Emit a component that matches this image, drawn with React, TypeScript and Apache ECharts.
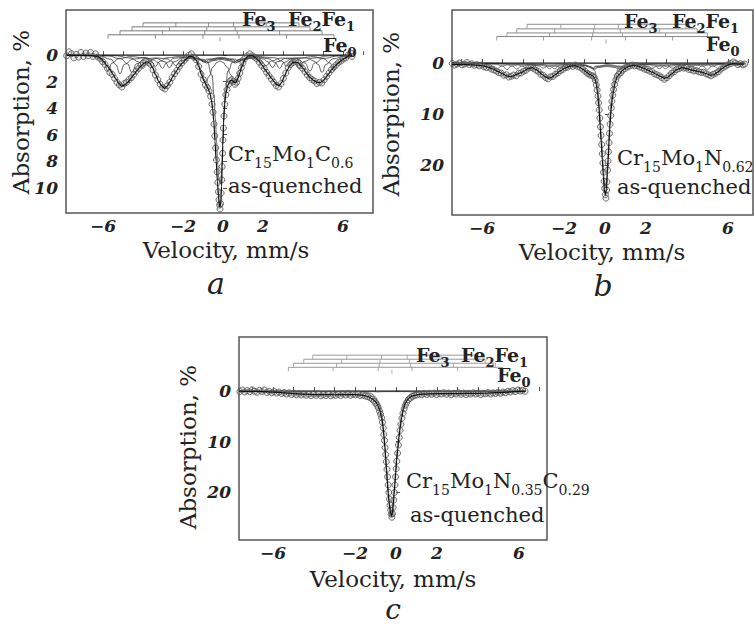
import React, { useEffect, useRef } from 'react';
import * as echarts from 'echarts';

// ---------- Panel a : Cr15Mo1C0.6 ----------
const dataA: number[][] = [
  [-7.82,0.05],[-7.7,-0.25],[-7.58,-0.1],[-7.46,0.2],[-7.34,-0.05],[-7.22,0.15],[-7.1,-0.2],[-6.98,0.1],[-6.86,-0.15],[-6.74,0.05],[-6.62,-0.2],[-6.5,0.1],[-6.38,-0.1],[-6.26,0.15],[-6.14,0.25],[-6.02,0.5],[-5.9,0.7],[-5.78,1.0],[-5.66,1.3],[-5.54,1.45],[-5.42,1.75],[-5.3,2.05],[-5.18,2.25],[-5.06,2.4],[-4.94,2.15],[-4.82,2.05],[-4.7,1.85],[-4.58,1.7],[-4.46,1.45],[-4.34,1.2],[-4.22,1.0],[-4.1,0.75],[-3.98,0.6],[-3.86,0.45],[-3.74,0.55],[-3.62,0.7],[-3.5,1.1],[-3.38,1.5],[-3.26,1.85],[-3.14,2.2],[-3.02,2.45],[-2.9,2.55],[-2.78,2.3],[-2.66,2.05],[-2.54,1.7],[-2.42,1.4],[-2.3,1.15],[-2.18,0.85],[-2.06,0.6],[-1.94,0.4],[-1.82,0.2],[-1.7,0.0],[-1.58,-0.1],[-1.46,0.15],[-1.34,0.35],[-1.22,0.85],[-1.1,1.45],[-0.98,1.85],[-0.88,2.25],[-0.78,2.45],[-0.7,2.7],[-0.62,3.1],[-0.55,3.7],[-0.5,4.3],[-0.45,5.2],[-0.41,6.1],[-0.37,7.0],[-0.33,7.9],[-0.29,8.8],[-0.26,9.6],[-0.23,10.3],[-0.2,10.9],[-0.17,11.3],[-0.15,11.6],[-0.12,11.2],[-0.09,10.4],[-0.06,9.4],[-0.04,8.4],[-0.02,7.4],[0.0,6.4],[0.02,5.5],[0.05,4.6],[0.09,3.7],[0.14,3.0],[0.2,2.6],[0.28,2.2],[0.36,1.95],[0.44,1.85],[0.52,2.0],[0.6,2.2],[0.68,2.05],[0.76,1.75],[0.84,1.35],[0.92,0.95],[1.0,0.6],[1.1,0.25],[1.22,0.05],[1.34,-0.1],[1.46,0.05],[1.58,0.15],[1.7,0.3],[1.82,0.55],[1.94,0.8],[2.06,1.0],[2.18,1.3],[2.3,1.55],[2.42,1.8],[2.54,2.05],[2.66,2.3],[2.78,2.4],[2.9,2.15],[3.02,1.75],[3.14,1.35],[3.26,0.95],[3.38,0.7],[3.5,0.55],[3.62,0.45],[3.74,0.6],[3.86,0.8],[3.98,1.0],[4.1,1.25],[4.22,1.5],[4.34,1.7],[4.46,1.85],[4.58,1.95],[4.7,2.15],[4.82,2.05],[4.94,2.1],[5.06,1.85],[5.18,1.6],[5.3,1.35],[5.42,1.1],[5.54,0.9],[5.66,0.75],[5.78,0.55],[5.9,0.45],[6.02,0.3],[6.14,0.2],[6.26,0.0],[6.38,-0.15],[6.45,0.1]
];
const fitA: number[][] = [
  [-7.8,0.0],[-7.2,0.02],[-6.6,0.03],[-6.3,0.08],[-6.1,0.25],[-5.95,0.5],[-5.8,0.8],[-5.65,1.1],[-5.5,1.45],[-5.35,1.8],[-5.2,2.15],[-5.07,2.35],[-4.92,2.25],[-4.77,2.05],[-4.6,1.75],[-4.45,1.45],[-4.3,1.15],[-4.12,0.85],[-3.95,0.6],[-3.8,0.5],[-3.66,0.6],[-3.52,0.95],[-3.38,1.45],[-3.22,1.95],[-3.08,2.3],[-2.93,2.5],[-2.8,2.35],[-2.65,2.0],[-2.5,1.6],[-2.35,1.25],[-2.2,0.9],[-2.02,0.58],[-1.85,0.3],[-1.7,0.1],[-1.52,0.1],[-1.36,0.35],[-1.2,0.9],[-1.07,1.5],[-0.95,1.95],[-0.84,2.25],[-0.74,2.55],[-0.66,2.85],[-0.58,3.35],[-0.52,4.0],[-0.46,5.0],[-0.4,6.5],[-0.34,8.0],[-0.28,9.5],[-0.23,10.6],[-0.18,11.3],[-0.15,11.45],[-0.11,11.0],[-0.07,9.9],[-0.04,8.4],[-0.01,6.8],[0.03,5.1],[0.08,3.7],[0.15,2.8],[0.25,2.25],[0.35,1.95],[0.45,1.9],[0.55,2.05],[0.65,2.05],[0.75,1.75],[0.85,1.3],[0.95,0.85],[1.1,0.3],[1.27,0.05],[1.43,0.02],[1.6,0.15],[1.77,0.4],[1.95,0.75],[2.1,1.08],[2.25,1.4],[2.43,1.75],[2.56,2.0],[2.68,2.22],[2.8,2.3],[2.94,2.05],[3.08,1.55],[3.22,1.1],[3.36,0.75],[3.5,0.57],[3.62,0.52],[3.76,0.58],[3.88,0.78],[4.02,1.02],[4.18,1.38],[4.35,1.68],[4.52,1.9],[4.7,2.05],[4.85,2.08],[5.0,1.95],[5.12,1.74],[5.26,1.45],[5.43,1.1],[5.6,0.82],[5.77,0.58],[5.95,0.38],[6.1,0.22],[6.27,0.06],[6.45,0.0]
];
const singA: number[][] = [
  [-1.3,0.1],[-0.8,0.5],[-0.55,1.5],[-0.45,3.0],[-0.38,4.8],[-0.32,6.6],[-0.26,8.3],[-0.2,9.4],[-0.15,9.7],[-0.1,9.3],[-0.05,8.0],[0.0,6.2],[0.05,4.3],[0.12,2.6],[0.25,1.2],[0.5,0.5],[1.0,0.1]
];
const dubA: number[][] = [
  [-1.6,0.0],[-1.3,0.4],[-1.1,1.1],[-0.95,1.8],[-0.85,2.1],[-0.7,1.6],[-0.5,0.9],[-0.3,0.55],[-0.15,0.45],[0.0,0.55],[0.2,0.9],[0.4,1.5],[0.55,2.0],[0.65,1.9],[0.8,1.2],[1.0,0.5],[1.3,0.1],[1.6,0.0]
];
const sexA4: number[][] = [
  [-7.8,0],[-6.6,0.05],[-6.2,0.25],[-5.95,0.6],[-5.75,1.2],[-5.55,0.6],[-5.2,0.25],[-4.6,0.12],[-3.9,0.22],[-3.6,0.45],[-3.38,0.85],[-3.15,0.45],[-2.8,0.2],[-2.2,0.12],[-1.5,0.15],[-1.2,0.3],[-1.0,0.5],[-0.8,0.3],[-0.1,0.2],[0.6,0.3],[0.8,0.5],[1.0,0.3],[1.7,0.12],[2.6,0.2],[2.95,0.45],[3.18,0.85],[3.4,0.45],[3.8,0.22],[4.5,0.12],[5.0,0.25],[5.35,0.6],[5.55,1.2],[5.75,0.6],[6.0,0.25],[6.45,0.05]
];
const sexA3: number[][] = [
  [-7.8,0],[-6.2,0.05],[-5.6,0.3],[-5.37,0.7],[-5.15,1.4],[-4.93,0.7],[-4.5,0.3],[-3.9,0.18],[-3.5,0.35],[-3.25,0.55],[-3.03,1.0],[-2.8,0.55],[-2.4,0.22],[-1.8,0.15],[-1.2,0.3],[-0.91,0.55],[-0.7,0.35],[-0.1,0.22],[0.5,0.35],[0.71,0.55],[1.0,0.3],[1.8,0.15],[2.3,0.28],[2.6,0.55],[2.83,1.0],[3.05,0.55],[3.5,0.22],[4.2,0.22],[4.55,0.45],[4.75,0.7],[4.95,1.3],[5.15,0.7],[5.5,0.28],[6.1,0.08],[6.45,0.04]
];
const sexA2: number[][] = [
  [-7.8,0],[-5.8,0.05],[-5.1,0.28],[-4.78,0.65],[-4.55,1.3],[-4.32,0.65],[-3.9,0.28],[-3.4,0.22],[-2.9,0.5],[-2.68,0.95],[-2.45,0.5],[-2.0,0.2],[-1.4,0.22],[-1.05,0.38],[-0.81,0.6],[-0.6,0.38],[-0.1,0.25],[0.4,0.38],[0.61,0.6],[0.85,0.38],[1.5,0.18],[2.0,0.28],[2.25,0.5],[2.48,0.95],[2.7,0.5],[3.2,0.22],[3.7,0.28],[4.1,0.6],[4.35,1.2],[4.58,0.6],[5.0,0.25],[5.8,0.06],[6.45,0.03]
];
const sexA1: number[][] = [
  [-7.8,0],[-5.4,0.05],[-4.6,0.22],[-4.23,0.5],[-4.0,1.0],[-3.77,0.5],[-3.3,0.22],[-2.8,0.28],[-2.58,0.45],[-2.36,0.8],[-2.14,0.45],[-1.6,0.22],[-1.0,0.32],[-0.72,0.55],[-0.5,0.42],[-0.1,0.32],[0.3,0.42],[0.52,0.55],[0.8,0.32],[1.4,0.2],[1.9,0.45],[2.16,0.8],[2.4,0.45],[2.9,0.22],[3.35,0.28],[3.57,0.5],[3.8,1.0],[4.03,0.5],[4.5,0.22],[5.4,0.05],[6.45,0.02]
];
const baseA: number[][] = [[-7.85,0],[6.45,0]];
const sticksA: number[][] = [
  [-4.0,-2.36,-0.72,0.52,2.16,3.8],
  [-4.55,-2.68,-0.81,0.61,2.48,4.35],
  [-5.15,-3.03,-0.91,0.71,2.83,4.95],
  [-5.75,-3.38,-1.0,0.8,3.18,5.55]
];
const stickLevelsA = [-2.43,-2.13,-1.83,-1.53];
const fe0A = [-0.15,-1.2];

// ---------- Panel b : Cr15Mo1N0.62 ----------
const dataB: number[][] = [
  [-7.45,0.1],[-7.33,0.4],[-7.21,0.2],[-7.09,0.0],[-6.97,0.35],[-6.85,0.2],[-6.73,-0.1],[-6.61,0.3],[-6.49,0.15],[-6.37,0.45],[-6.25,0.3],[-6.13,0.55],[-6.01,0.4],[-5.89,0.75],[-5.77,0.9],[-5.65,0.8],[-5.53,1.2],[-5.41,1.35],[-5.29,1.6],[-5.17,1.9],[-5.05,2.0],[-4.93,2.4],[-4.81,2.3],[-4.69,2.75],[-4.57,2.6],[-4.45,2.35],[-4.33,2.5],[-4.21,2.0],[-4.09,1.95],[-3.97,1.6],[-3.85,1.4],[-3.73,1.0],[-3.61,0.85],[-3.49,1.05],[-3.37,1.4],[-3.25,1.65],[-3.13,2.2],[-3.01,2.4],[-2.89,2.85],[-2.77,3.1],[-2.65,2.7],[-2.53,2.6],[-2.41,2.2],[-2.29,1.9],[-2.17,1.5],[-2.05,1.25],[-1.93,0.9],[-1.81,0.8],[-1.69,0.5],[-1.57,0.65],[-1.45,0.4],[-1.33,0.7],[-1.21,0.85],[-1.09,1.2],[-0.97,1.6],[-0.87,2.0],[-0.78,2.2],[-0.69,2.4],[-0.6,2.5],[-0.53,2.8],[-0.47,3.4],[-0.42,4.3],[-0.38,5.3],[-0.34,6.5],[-0.31,7.8],[-0.28,9.2],[-0.25,10.8],[-0.22,12.5],[-0.19,14.2],[-0.16,16.0],[-0.13,17.8],[-0.1,19.6],[-0.07,21.4],[-0.04,23.2],[-0.01,24.6],[0.02,25.8],[0.05,26.5],[0.08,24.9],[0.1,23.3],[0.13,21.0],[0.15,19.2],[0.17,17.4],[0.2,15.6],[0.22,13.8],[0.25,12.0],[0.28,10.3],[0.31,8.8],[0.34,7.5],[0.38,6.3],[0.42,5.2],[0.47,4.2],[0.53,3.3],[0.6,2.6],[0.68,2.2],[0.77,1.9],[0.87,1.4],[0.97,1.1],[1.09,0.8],[1.21,0.6],[1.33,0.4],[1.45,0.55],[1.57,0.5],[1.69,0.8],[1.81,0.9],[1.93,1.2],[2.05,1.3],[2.17,1.6],[2.29,1.7],[2.41,2.1],[2.53,2.3],[2.65,2.5],[2.77,2.85],[2.89,3.2],[3.01,2.9],[3.13,2.5],[3.25,2.0],[3.37,1.7],[3.49,1.3],[3.61,1.1],[3.73,0.85],[3.85,1.0],[3.97,0.95],[4.09,1.25],[4.21,1.3],[4.33,1.55],[4.45,1.5],[4.57,1.7],[4.69,1.85],[4.81,1.8],[4.93,2.1],[5.05,2.3],[5.17,2.5],[5.29,2.2],[5.41,2.0],[5.53,1.7],[5.65,1.2],[5.77,0.9],[5.89,0.6],[6.01,0.3],[6.13,0.1],[6.25,-0.2],[6.37,0.0],[6.49,0.3],[6.61,0.15],[6.73,0.35],[6.82,0.2]
];
const fitB: number[][] = [
  [-7.46,0.3],[-7.0,0.3],[-6.5,0.35],[-6.0,0.5],[-5.7,0.8],[-5.45,1.2],[-5.2,1.7],[-5.0,2.1],[-4.8,2.5],[-4.6,2.7],[-4.45,2.5],[-4.3,2.2],[-4.1,1.9],[-3.95,1.6],[-3.75,1.1],[-3.56,0.9],[-3.35,1.3],[-3.2,1.8],[-3.05,2.3],[-2.9,2.7],[-2.76,3.0],[-2.6,2.8],[-2.43,2.3],[-2.2,1.6],[-1.95,1.0],[-1.7,0.6],[-1.46,0.5],[-1.25,0.8],[-1.05,1.3],[-0.9,1.8],[-0.75,2.2],[-0.6,2.5],[-0.5,3.0],[-0.42,4.2],[-0.36,5.9],[-0.3,8.5],[-0.24,12.2],[-0.18,15.6],[-0.13,18.9],[-0.08,22.2],[-0.03,24.8],[0.02,25.9],[0.07,24.8],[0.12,21.5],[0.16,18.9],[0.2,15.5],[0.24,12.4],[0.3,9.2],[0.36,7.0],[0.41,5.7],[0.5,3.8],[0.59,2.7],[0.7,2.2],[0.85,1.5],[1.0,1.0],[1.2,0.6],[1.39,0.45],[1.6,0.6],[1.88,1.0],[2.1,1.4],[2.3,1.8],[2.5,2.2],[2.7,2.6],[2.9,3.0],[3.05,2.8],[3.26,2.1],[3.5,1.3],[3.75,0.9],[4.0,1.1],[4.24,1.4],[4.5,1.6],[4.72,1.8],[4.95,2.1],[5.15,2.4],[5.3,2.3],[5.5,1.8],[5.7,1.1],[5.85,0.7],[6.05,0.3],[6.26,0.1],[6.5,0.2],[6.8,0.2]
];
const singB: number[][] = [
  [-1.5,0.05],[-1.0,0.3],[-0.7,0.7],[-0.5,1.5],[-0.42,2.6],[-0.36,4.2],[-0.3,6.8],[-0.24,10.4],[-0.18,14.0],[-0.13,17.4],[-0.08,20.7],[-0.03,23.3],[0.02,24.4],[0.07,23.3],[0.12,20.0],[0.16,17.4],[0.2,14.0],[0.24,10.8],[0.3,7.6],[0.36,5.3],[0.41,4.0],[0.5,2.2],[0.7,0.8],[1.0,0.3],[1.5,0.05]
];
const sexB4: number[][] = [
  [-7.46,0],[-6.5,0.05],[-5.8,0.25],[-5.5,0.6],[-5.28,1.2],[-5.06,0.6],[-4.6,0.25],[-4.0,0.2],[-3.45,0.4],[-3.22,0.6],[-3.0,1.0],[-2.78,0.6],[-2.3,0.25],[-1.6,0.25],[-1.0,0.5],[-0.82,0.7],[-0.65,1.0],[-0.45,0.6],[0.2,0.35],[0.75,0.6],[1.0,1.0],[1.2,0.6],[1.8,0.25],[2.6,0.25],[3.05,0.6],[3.3,1.0],[3.52,0.6],[4.1,0.25],[4.9,0.3],[5.3,0.6],[5.55,1.2],[5.78,0.6],[6.2,0.2],[6.8,0.05]
];
const sexB3: number[][] = [
  [-7.46,0],[-6.2,0.05],[-5.3,0.25],[-5.0,0.6],[-4.78,1.3],[-4.56,0.6],[-4.1,0.25],[-3.6,0.25],[-3.15,0.4],[-2.92,0.6],[-2.7,1.1],[-2.48,0.6],[-2.0,0.3],[-1.4,0.3],[-0.95,0.5],[-0.78,0.75],[-0.6,1.1],[-0.42,0.7],[0.15,0.4],[0.65,0.7],[0.85,1.1],[1.05,0.65],[1.6,0.3],[2.3,0.3],[2.72,0.6],[2.95,1.1],[3.18,0.6],[3.7,0.25],[4.3,0.3],[4.78,0.6],[5.0,1.3],[5.22,0.6],[5.7,0.2],[6.8,0.03]
];
const sexB2: number[][] = [
  [-7.46,0],[-5.8,0.05],[-4.85,0.25],[-4.52,0.6],[-4.3,1.2],[-4.08,0.6],[-3.6,0.25],[-3.1,0.3],[-2.68,0.6],[-2.45,1.1],[-2.23,0.6],[-1.7,0.3],[-1.1,0.4],[-0.75,0.7],[-0.55,1.2],[-0.35,0.8],[0.1,0.55],[0.55,0.8],[0.75,1.2],[0.95,0.7],[1.5,0.3],[2.1,0.3],[2.43,0.6],[2.65,1.1],[2.87,0.6],[3.4,0.3],[3.95,0.3],[4.28,0.6],[4.5,1.2],[4.72,0.6],[5.2,0.25],[6.8,0.03]
];
const sexB1: number[][] = [
  [-7.46,0],[-5.2,0.05],[-4.35,0.25],[-4.02,0.6],[-3.8,1.1],[-3.58,0.6],[-3.1,0.3],[-2.6,0.35],[-2.37,0.6],[-2.15,1.0],[-1.93,0.6],[-1.4,0.35],[-0.9,0.5],[-0.68,0.8],[-0.5,1.2],[-0.3,0.85],[0.1,0.7],[0.47,0.85],[0.65,1.2],[0.85,0.75],[1.4,0.35],[1.85,0.4],[2.08,0.6],[2.3,1.0],[2.52,0.6],[3.0,0.3],[3.5,0.3],[3.73,0.6],[3.95,1.1],[4.17,0.6],[4.7,0.25],[6.8,0.03]
];
const baseB: number[][] = [[-7.46,0],[6.8,0]];
const sticksB: number[][] = [
  [-3.8,-2.15,-0.5,0.65,2.3,3.95],
  [-4.3,-2.45,-0.55,0.75,2.65,4.5],
  [-4.78,-2.7,-0.6,0.85,2.95,5.0],
  [-5.28,-3.0,-0.65,1.0,3.3,5.55]
];
const stickLevelsB = [-7.6,-6.7,-5.9,-5.2];
const fe0B = [0.05,-4.2];

// ---------- Panel c : Cr15Mo1N0.35C0.29 ----------
const dataC: number[][] = [
  [-7.62,0.1],[-7.5,-0.2],[-7.38,0.2],[-7.26,-0.1],[-7.14,0.15],[-7.02,-0.25],[-6.9,0.05],[-6.78,0.25],[-6.66,-0.15],[-6.54,0.1],[-6.42,-0.2],[-6.3,0.3],[-6.18,0.05],[-6.06,0.35],[-5.94,0.1],[-5.82,0.4],[-5.7,0.2],[-5.58,0.5],[-5.46,0.3],[-5.34,0.6],[-5.22,0.35],[-5.1,0.7],[-4.98,0.45],[-4.86,0.75],[-4.74,0.5],[-4.62,0.8],[-4.5,0.55],[-4.38,0.85],[-4.26,0.6],[-4.14,0.9],[-4.02,0.6],[-3.9,0.85],[-3.78,0.55],[-3.66,0.95],[-3.54,0.7],[-3.42,0.9],[-3.3,0.6],[-3.18,0.95],[-3.06,0.7],[-2.94,0.85],[-2.82,0.6],[-2.7,0.9],[-2.58,0.55],[-2.46,0.8],[-2.34,0.5],[-2.22,0.85],[-2.1,0.6],[-1.98,0.75],[-1.86,0.6],[-1.74,0.9],[-1.62,0.8],[-1.5,1.0],[-1.38,1.1],[-1.26,1.35],[-1.16,1.6],[-1.07,2.0],[-0.99,2.4],[-0.92,2.8],[-0.86,3.3],[-0.8,4.0],[-0.75,4.6],[-0.7,5.3],[-0.66,6.2],[-0.62,7.3],[-0.59,8.6],[-0.56,9.8],[-0.53,11.2],[-0.5,12.6],[-0.47,14.0],[-0.44,15.5],[-0.41,17.0],[-0.38,18.6],[-0.35,20.1],[-0.32,21.4],[-0.29,22.6],[-0.26,23.6],[-0.23,24.4],[-0.2,25.0],[-0.17,24.3],[-0.14,23.1],[-0.11,21.6],[-0.08,20.1],[-0.05,18.6],[-0.02,17.0],[0.01,15.4],[0.04,13.9],[0.08,12.3],[0.12,10.7],[0.16,9.2],[0.2,7.8],[0.24,6.6],[0.29,5.4],[0.34,4.4],[0.4,3.5],[0.46,2.8],[0.53,2.2],[0.61,1.7],[0.7,1.4],[0.8,1.1],[0.9,0.9],[1.02,0.8],[1.14,0.6],[1.26,0.75],[1.38,0.5],[1.5,0.7],[1.62,0.45],[1.74,0.65],[1.86,0.4],[1.98,0.7],[2.1,0.45],[2.22,0.6],[2.34,0.35],[2.46,0.65],[2.58,0.4],[2.7,0.7],[2.82,0.45],[2.94,0.6],[3.06,0.35],[3.18,0.65],[3.3,0.4],[3.42,0.7],[3.54,0.45],[3.66,0.6],[3.78,0.35],[3.9,0.6],[4.02,0.4],[4.14,0.7],[4.26,0.45],[4.38,0.55],[4.5,0.3],[4.62,0.6],[4.74,0.35],[4.86,0.5],[4.98,0.25],[5.1,0.45],[5.22,0.2],[5.34,0.35],[5.46,0.05],[5.58,0.2],[5.7,-0.1],[5.82,0.1],[5.94,-0.2],[6.06,0.0],[6.18,-0.15],[6.3,0.05]
];
const fitC: number[][] = [
  [-7.66,0.0],[-7.0,0.05],[-6.5,0.1],[-6.0,0.2],[-5.5,0.35],[-5.0,0.5],[-4.5,0.6],[-4.0,0.7],[-3.5,0.72],[-3.0,0.74],[-2.5,0.7],[-2.0,0.7],[-1.6,0.85],[-1.35,1.1],[-1.15,1.6],[-1.0,2.1],[-0.93,2.5],[-0.86,3.1],[-0.78,4.0],[-0.7,5.3],[-0.64,6.9],[-0.59,8.9],[-0.54,11.2],[-0.5,13.5],[-0.46,15.8],[-0.42,18.1],[-0.38,20.2],[-0.34,22.0],[-0.28,23.9],[-0.21,24.8],[-0.17,24.1],[-0.13,22.4],[-0.09,20.4],[-0.05,18.4],[-0.01,16.1],[0.03,13.8],[0.09,11.4],[0.15,9.1],[0.21,7.1],[0.28,5.2],[0.36,3.7],[0.44,2.6],[0.55,1.8],[0.68,1.25],[0.82,0.95],[1.0,0.75],[1.3,0.6],[2.0,0.52],[3.0,0.5],[4.0,0.45],[5.0,0.32],[5.5,0.2],[6.0,0.05],[6.33,0.0]
];
const singC: number[][] = [
  [-1.6,0.1],[-1.2,0.45],[-1.0,1.2],[-0.86,2.0],[-0.78,3.0],[-0.7,4.5],[-0.64,6.2],[-0.59,8.4],[-0.54,10.7],[-0.5,13.1],[-0.46,15.4],[-0.42,17.7],[-0.38,19.7],[-0.34,21.6],[-0.28,23.4],[-0.21,24.3],[-0.17,23.4],[-0.13,21.6],[-0.09,19.7],[-0.05,17.7],[-0.01,15.4],[0.03,13.1],[0.09,10.7],[0.15,8.4],[0.21,6.4],[0.28,4.5],[0.36,3.0],[0.44,1.9],[0.55,1.1],[0.7,0.6],[1.0,0.25],[1.4,0.1]
];
const sexC: number[][] = [
  [-7.66,0],[-6.0,0.05],[-5.5,0.15],[-5.25,0.4],[-5.0,0.15],[-4.2,0.08],[-3.3,0.15],[-3.07,0.35],[-2.85,0.15],[-2.0,0.08],[-1.1,0.15],[-0.87,0.3],[-0.65,0.15],[0.55,0.15],[0.78,0.3],[1.0,0.15],[2.0,0.08],[2.78,0.15],[3.0,0.35],[3.22,0.15],[4.2,0.08],[4.95,0.15],[5.2,0.4],[5.45,0.15],[6.33,0.02]
];
const baseC: number[][] = [[-7.66,0],[6.33,0]];
const sticksC: number[][] = [
  [-4.06,-2.4,-0.7,0.55,2.2,3.85],
  [-4.5,-2.65,-0.78,0.65,2.5,4.35],
  [-5.0,-2.9,-0.82,0.72,2.8,4.85],
  [-5.25,-3.07,-0.87,0.78,3.0,5.2]
];
const stickLevelsC = [-7.1,-6.3,-5.5,-4.7];
const fe0C = [-0.2,-3.8];

// ---------- axes ----------
const xTickValues = [-7,-6,-5,-4,-3,-2,-1,0,1,2,3,4,5,6,7];
const xLabelValues = [-6,-2,0,2,6];
const yLabelValuesA = [0,2,4,6,8,10];
const yLabelValuesBC = [0,10,20];

const SERIF = "DejaVu Serif";
const INK = '#222';

const fmt = (v: number) => (v < 0 ? '\u2212' + Math.abs(v) : String(v));

function buildOption() {
  const grids = [
    { left: 66, top: 10, width: 307, height: 203 },
    { left: 452, top: 10, width: 301, height: 205 },
    { left: 239, top: 337, width: 308, height: 203 },
  ].map((g) => ({ ...g, show: true, borderColor: '#555', borderWidth: 1.5, backgroundColor: 'transparent', containLabel: false, outerBoundsMode: 'none' }));

  const xr = [[-7.85, 7.5], [-7.46, 7.22], [-7.66, 7.37]];
  const yr = [[-3.4, 11.9], [-10.4, 29.8], [-10.7, 29.5]];
  const yl = [yLabelValuesA, yLabelValuesBC, yLabelValuesBC];

  const labelFont = { fontFamily: SERIF, fontStyle: 'italic', fontWeight: 'bold', fontSize: 17, color: INK, lineHeight: 16 };

  const xAxis = xr.map((r, i) => ({
    type: 'value', gridIndex: i, min: r[0], max: r[1],
    axisLine: { show: false }, splitLine: { show: false },
    axisTick: { show: true, inside: true, length: 4, customValues: xTickValues, lineStyle: { color: '#555', width: 1 } },
    axisLabel: { show: true, margin: 5, customValues: xLabelValues, formatter: fmt, ...labelFont },
  }));
  const yAxis = yr.map((r, i) => ({
    type: 'value', gridIndex: i, min: r[0], max: r[1], inverse: true,
    axisLine: { show: false }, splitLine: { show: false },
    axisTick: { show: true, inside: true, length: 4, customValues: yl[i], lineStyle: { color: '#555', width: 1 } },
    axisLabel: { show: true, margin: 8, customValues: yl[i], formatter: fmt, ...labelFont },
  }));

  const line = (g: number, data: number[][], color: string, width: number, smooth = 0, z = 2) => ({
    type: 'line', xAxisIndex: g, yAxisIndex: g, data, symbol: 'none', showSymbol: false,
    smooth, smoothMonotone: 'x', lineStyle: { color, width }, silent: true, z,
  });
  const dots = (g: number, data: number[][], color: string) => ({
    type: 'scatter', xAxisIndex: g, yAxisIndex: g, data, symbol: 'circle', symbolSize: 6,
    itemStyle: { color: 'rgba(160,160,160,0.25)', borderColor: color, borderWidth: 1 }, silent: true, z: 3,
  });
  const sticks = (g: number, rows: number[][], levels: number[], fe0: number[], color: string) => {
    const out: any[] = [];
    rows.forEach((row, k) => {
      out.push(line(g, [[row[0], levels[k]], [row[row.length - 1], levels[k]]], color, 1, 0, 1));
      out.push({
        type: 'scatter', xAxisIndex: g, yAxisIndex: g, data: row.map((v) => [v, levels[k]]),
        symbol: 'rect', symbolSize: [1, 4], symbolOffset: [0, 2], itemStyle: { color }, silent: true, z: 1,
      });
    });
    out.push({
      type: 'scatter', xAxisIndex: g, yAxisIndex: g, data: [fe0],
      symbol: 'rect', symbolSize: [1, 4], itemStyle: { color }, silent: true, z: 1,
    });
    return out;
  };

  const series: any[] = [
    ...[sexA1, sexA2, sexA3, sexA4, dubA, singA].map((d) => line(0, d, '#3a3a3a', 0.8, 0.5)),
    line(0, baseA, '#111', 1.3),
    dots(0, dataA, '#505050'),
    line(0, fitA, '#111', 1.2, 0.3, 4),
    ...sticks(0, sticksA, stickLevelsA, fe0A, '#777'),
    ...[sexB1, sexB2, sexB3, sexB4, singB].map((d) => line(1, d, '#444', 0.7, 0.5)),
    line(1, baseB, '#111', 1.3),
    dots(1, dataB, '#505050'),
    line(1, fitB, '#111', 1.2, 0.3, 4),
    ...sticks(1, sticksB, stickLevelsB, fe0B, '#888'),
    line(2, sexC, '#aaa', 0.7, 0.5),
    line(2, singC, '#444', 0.8, 0.3),
    line(2, baseC, '#111', 1.3),
    dots(2, dataC, '#505050'),
    line(2, fitC, '#111', 1.2, 0.3, 4),
    ...sticks(2, sticksC, stickLevelsC, fe0C, '#999'),
  ];

  const txt = (x: number, y: number, text: string, o: any = {}) => ({
    type: 'text', x, y, rotation: o.rotation || 0, silent: true, z: 10,
    style: {
      text, fill: INK, fontFamily: o.fontFamily || SERIF, fontSize: o.fontSize || 21,
      fontStyle: o.fontStyle || 'normal', fontWeight: o.fontWeight || 'normal',
      align: o.align || 'left', textAlign: o.align || 'left',
      verticalAlign: 'middle', textVerticalAlign: 'middle',
      rich: o.rich,
    },
  });

  const feRich = {
    m: { fontFamily: SERIF, fontSize: 19, fontWeight: 'bold', fill: INK, color: INK },
    s: { fontFamily: SERIF, fontSize: 13, fontWeight: 'bold', fill: INK, color: INK, padding: [14, 0, 0, 0] },
  };
  const cmpRich = {
    m: { fontFamily: SERIF, fontSize: 21, fill: INK, color: INK },
    s: { fontFamily: SERIF, fontSize: 14, fill: INK, color: INK, padding: [17, 0, 0, 0] },
  };
  const fe = (x: number, y: number, t: string) => txt(x, y, t, { rich: feRich, fontWeight: 'bold', fontSize: 19 });
  const cmp = (x: number, y: number, t: string) => txt(x, y, t, { rich: cmpRich });

  const graphic = [
    txt(226, 250, 'Velocity, mm/s', { align: 'center', fontSize: 23 }),
    txt(21, 112, 'Absorption, %', { align: 'center', fontSize: 23, rotation: Math.PI / 2 }),
    txt(216, 283, 'a', { align: 'center', fontSize: 30, fontStyle: 'italic' }),
    fe(242, 19, '{m|Fe}{s|3}'),
    fe(288, 19, '{m|Fe}{s|2}{m|Fe}{s|1}'),
    fe(323, 45, '{m|Fe}{s|0}'),
    cmp(228, 154, '{m|Cr}{s|15}{m|Mo}{s|1}{m|C}{s|0.6}'),
    txt(228, 186, 'as-quenched'),
    txt(602, 252, 'Velocity, mm/s', { align: 'center', fontSize: 23 }),
    txt(391, 114, 'Absorption, %', { align: 'center', fontSize: 23, rotation: Math.PI / 2 }),
    txt(603, 285, 'b', { align: 'center', fontSize: 30, fontStyle: 'italic' }),
    fe(624, 21, '{m|Fe}{s|3}'),
    fe(672, 21, '{m|Fe}{s|2}{m|Fe}{s|1}'),
    fe(706, 44, '{m|Fe}{s|0}'),
    cmp(617, 158, '{m|Cr}{s|15}{m|Mo}{s|1}{m|N}{s|0.62}'),
    txt(617, 187, 'as-quenched'),
    txt(393, 579, 'Velocity, mm/s', { align: 'center', fontSize: 23 }),
    txt(188, 447, 'Absorption, %', { align: 'center', fontSize: 23, rotation: Math.PI / 2 }),
    txt(393, 609, 'c', { align: 'center', fontSize: 28, fontStyle: 'italic' }),
    fe(416, 355, '{m|Fe}{s|3}'),
    fe(461, 355, '{m|Fe}{s|2}{m|Fe}{s|1}'),
    fe(497, 375, '{m|Fe}{s|0}'),
    cmp(406, 481, '{m|Cr}{s|15}{m|Mo}{s|1}{m|N}{s|0.35}{m|C}{s|0.29}'),
    txt(410, 515, 'as-quenched'),
  ];

  return {
    animation: false,
    backgroundColor: '#fff',
    grid: grids,
    xAxis,
    yAxis,
    series,
    graphic,
  };
}

export default function App() {
  const ref = useRef<HTMLDivElement>(null);
  useEffect(() => {
    document.body.style.margin = '0';
    const chart = echarts.init(ref.current!, null, { renderer: 'svg', width: 754, height: 628 });
    chart.setOption(buildOption() as any);
    return () => chart.dispose();
  }, []);
  return <div ref={ref} style={{ width: 754, height: 628, position: 'absolute', left: 0, top: 0, background: '#fff' }} />;
}
